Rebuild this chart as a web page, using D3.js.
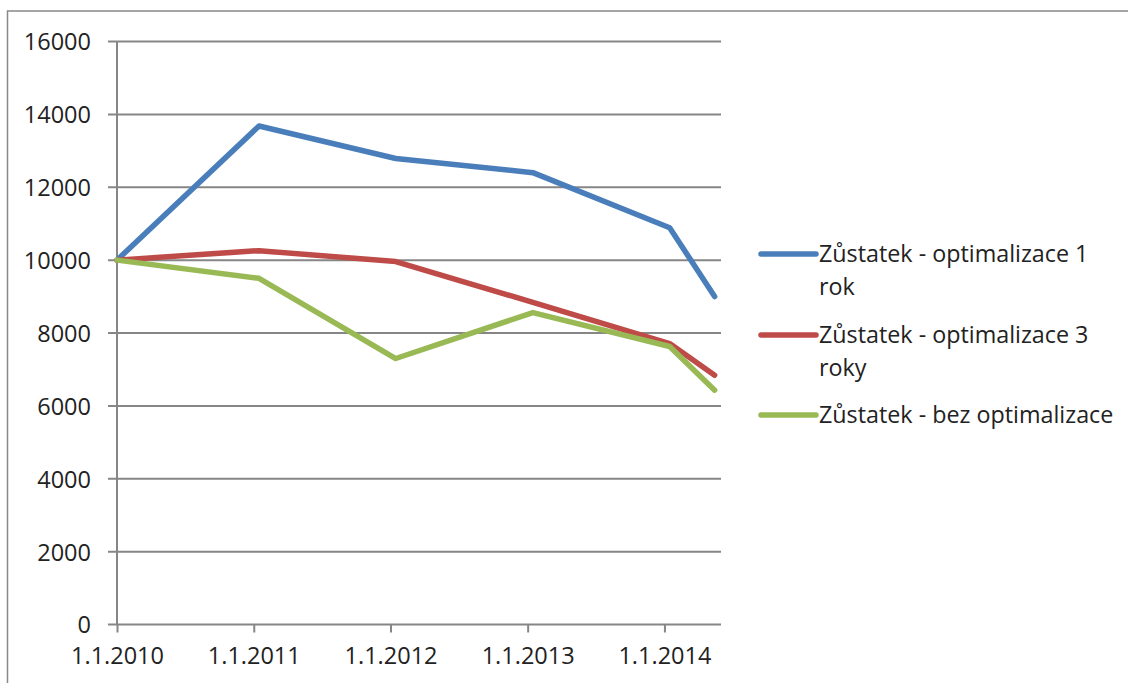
<!DOCTYPE html>
<html>
<head>
<meta charset="utf-8">
<script src="https://cdn.jsdelivr.net/npm/d3@7"></script>
<style>
  body { margin: 0; background: #fff; }
  svg { display: block; font-family: "Open Sans", sans-serif; }
  .grid line { stroke: #868686; stroke-width: 2; }
  .tick text { fill: #222; font-size: 23.5px; font-family: "Open Sans", sans-serif; }
  .legend text { fill: #222; font-size: 23.3px; font-family: "Open Sans", sans-serif; }
</style>
</head>
<body>
<div id="chart"></div>
<script>
const parseDate = d3.timeParse('%d.%m.%Y');

const dates = ['1.1.2010', '15.1.2011', '15.1.2012', '15.1.2013', '15.1.2014', '15.5.2014'];
const rok1 = [10000, 13680, 12790, 12400, 10890, 9000];
const roky3 = [10000, 10260, 9960, 8840, 7710, 6840];
const bez = [10000, 9500, 7300, 8560, 7630, 6430];

const seriesNames = [
  'Zůstatek - optimalizace 1 rok',
  'Zůstatek - optimalizace 3 roky',
  'Zůstatek - bez optimalizace',
];
const colors = ['#4a7ebb', '#be4b48', '#98b954'];
const xTicks = ['1.1.2010', '1.1.2011', '1.1.2012', '1.1.2013', '1.1.2014'];
const xDomain = ['1.1.2010', '1.6.2014'];
const yTicks = [0, 2000, 4000, 6000, 8000, 10000, 12000, 14000, 16000];

const series = [rok1, roky3, bez].map((vals, i) => ({
  name: seriesNames[i],
  color: colors[i],
  values: vals.map((v, j) => ({ date: parseDate(dates[j]), value: v })),
}));

const width = 1128;
const height = 683;
const plot = { left: 117, right: 721, top: 41.5, bottom: 624.5 };

const svg = d3.select('#chart')
  .append('svg')
    .attr('width', width)
    .attr('height', height);

// outer chart frame
svg.append('rect')
  .attr('x', 7.5)
  .attr('y', 11)
  .attr('width', 1200)
  .attr('height', 800)
  .attr('fill', 'none')
  .attr('stroke', '#888')
  .attr('stroke-width', 1.5);

const x = d3.scaleTime()
  .domain(xDomain.map(parseDate))
  .range([plot.left, plot.right]);

const y = d3.scaleLinear()
  .domain([0, 16000])
  .range([plot.bottom, plot.top]);

// horizontal gridlines
svg.append('g')
  .attr('class', 'grid')
  .selectAll('line')
  .data(yTicks)
  .join('line')
    .attr('x1', plot.left - 9)
    .attr('x2', plot.right)
    .attr('y1', d => y(d))
    .attr('y2', d => y(d));

// y axis
const yAxis = svg.append('g')
  .attr('transform', `translate(${plot.left},0)`)
  .call(d3.axisLeft(y).tickValues(yTicks).tickSize(9).tickPadding(17).tickFormat(d3.format('d')));
yAxis.select('.domain').remove();
yAxis.selectAll('.tick line').remove();
yAxis.selectAll('.tick text').attr('dy', '0.36em');

svg.append('line')
  .attr('x1', plot.left)
  .attr('x2', plot.left)
  .attr('y1', plot.top)
  .attr('y2', plot.bottom)
  .attr('stroke', '#868686')
  .attr('stroke-width', 2);

// x axis
const xAxis = svg.append('g')
  .attr('transform', `translate(0,${plot.bottom})`)
  .call(d3.axisBottom(x)
    .tickValues(xTicks.map(parseDate))
    .tickSize(8)
    .tickPadding(10)
    .tickFormat(d3.timeFormat('%-d.%-m.%Y')));
xAxis.select('.domain').remove();
xAxis.selectAll('.tick line').attr('stroke', '#868686').attr('stroke-width', 2);
xAxis.selectAll('.tick text').attr('dy', '0.93em');

// lines
const line = d3.line()
  .x(d => x(d.date))
  .y(d => y(d.value));

svg.append('g')
  .selectAll('path')
  .data(series)
  .join('path')
    .attr('d', d => line(d.values))
    .attr('fill', 'none')
    .attr('stroke', d => d.color)
    .attr('stroke-width', 5.5)
    .attr('stroke-linecap', 'round')
    .attr('stroke-linejoin', 'round');

// legend
const legendX = 761;
const legendRows = [254, 335, 415];
const lineHeight = 33;
const maxTextWidth = 300;

const legend = svg.append('g').attr('class', 'legend');

series.forEach((s, i) => {
  const g = legend.append('g');
  g.append('line')
    .attr('x1', legendX)
    .attr('x2', legendX + 55)
    .attr('y1', legendRows[i])
    .attr('y2', legendRows[i])
    .attr('stroke', s.color)
    .attr('stroke-width', 5.5)
    .attr('stroke-linecap', 'round');

  const text = g.append('text')
    .attr('x', legendX + 58)
    .attr('y', legendRows[i] + 8);

  // wrap words like the legend box does
  const words = s.name.split(' ');
  let current = [];
  let tspan = text.append('tspan').attr('x', legendX + 58).attr('dy', 0);
  words.forEach(w => {
    current.push(w);
    tspan.text(current.join(' '));
    if (tspan.node().getComputedTextLength() > maxTextWidth && current.length > 1) {
      current.pop();
      tspan.text(current.join(' '));
      current = [w];
      tspan = text.append('tspan')
        .attr('x', legendX + 58)
        .attr('dy', lineHeight)
        .text(w);
    }
  });
});
</script>
</body>
</html>
